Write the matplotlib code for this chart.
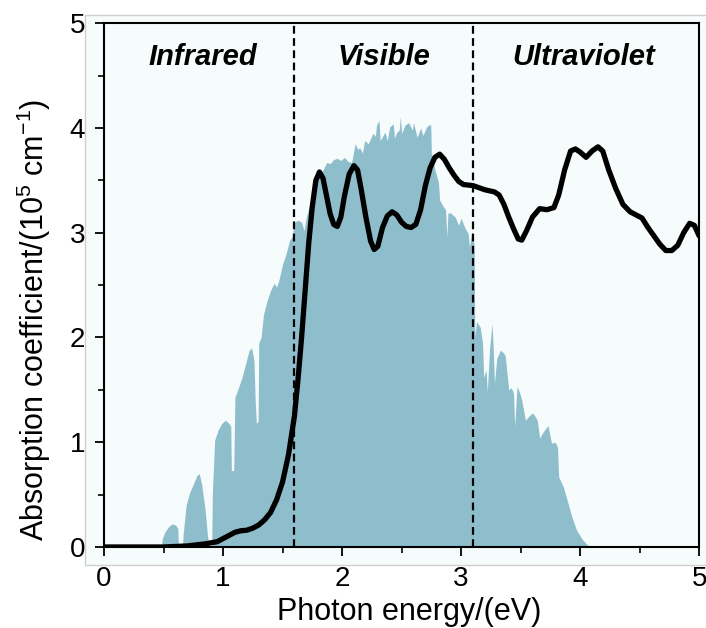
import numpy as np
import matplotlib
matplotlib.use('Agg')
import matplotlib.pyplot as plt
from matplotlib.patches import Rectangle

plt.rcParams['font.family'] = ['Liberation Sans', 'DejaVu Sans']
plt.rcParams['mathtext.fontset'] = 'custom'
plt.rcParams['mathtext.rm'] = 'Liberation Sans'
plt.rcParams['mathtext.it'] = 'Liberation Sans:italic'

# solar spectrum (scaled), photon energy in eV
sun_e = [0.30, 0.32, 0.37, 0.39, 0.48, 0.49, 0.51, 0.54, 0.57, 0.60, 0.62, 0.625, 0.66,
         0.665, 0.69, 0.72, 0.75, 0.78, 0.80, 0.82, 0.85, 0.87, 0.885, 0.905,
         0.91, 0.93, 0.96, 0.99, 1.02, 1.05, 1.065, 1.07, 1.09, 1.10, 1.13, 1.16,
         1.19, 1.22, 1.24, 1.26, 1.27, 1.28, 1.295, 1.30, 1.32, 1.34, 1.37, 1.40,
         1.43, 1.45, 1.47, 1.50, 1.53, 1.56, 1.58, 1.60, 1.63, 1.66, 1.68, 1.70,
         1.73, 1.76, 1.80, 1.84, 1.87, 1.90, 1.93, 1.96, 1.99, 2.02, 2.05, 2.08,
         2.11, 2.13, 2.15, 2.17, 2.19, 2.22, 2.24, 2.26, 2.28, 2.29, 2.31, 2.32,
         2.33, 2.36, 2.38, 2.40, 2.43, 2.44, 2.46, 2.48, 2.49, 2.50, 2.53, 2.56,
         2.59, 2.60, 2.62, 2.63, 2.66, 2.68, 2.71, 2.73, 2.745, 2.75, 2.78, 2.81,
         2.82, 2.85, 2.87, 2.88, 2.89, 2.91, 2.95, 2.98, 3.00, 3.03, 3.06, 3.07,
         3.09, 3.105, 3.11, 3.115, 3.13, 3.16, 3.18, 3.19, 3.21, 3.22, 3.24, 3.26,
         3.27, 3.28, 3.30, 3.33, 3.35, 3.37, 3.40, 3.42, 3.44, 3.45, 3.47, 3.49,
         3.51, 3.54, 3.57, 3.60, 3.62, 3.64, 3.66, 3.69, 3.73, 3.76, 3.79, 3.81,
         3.82, 3.86, 3.89, 3.93, 3.97, 4.02, 4.06, 4.10]
sun_v = [0.0, 0.01, 0.01, 0.0, 0.0, 0.08, 0.14, 0.19, 0.22, 0.21, 0.18, 0.0, 0.0,
         0.12, 0.40, 0.52, 0.60, 0.68, 0.70, 0.60, 0.35, 0.10, 0.0, 0.0,
         0.50, 1.02, 1.12, 1.18, 1.21, 1.18, 1.15, 0.73, 0.73, 1.43, 1.52, 1.62,
         1.75, 1.88, 1.90, 1.78, 1.40, 1.18, 1.20, 1.95, 2.00, 2.22, 2.35, 2.45,
         2.52, 2.48, 2.55, 2.70, 2.80, 2.93, 2.96, 3.10, 3.12, 3.10, 3.02, 3.15,
         3.28, 3.38, 3.52, 3.60, 3.67, 3.66, 3.70, 3.71, 3.69, 3.72, 3.68, 3.67,
         3.85, 3.80, 3.81, 3.76, 3.88, 3.85, 3.90, 3.95, 3.92, 4.03, 4.07, 3.88,
         3.90, 3.96, 3.88, 4.01, 4.04, 3.90, 3.96, 3.98, 4.11, 3.95, 4.03, 4.05,
         3.98, 4.05, 3.96, 3.91, 4.00, 3.93, 4.01, 4.03, 4.03, 3.76, 3.60, 3.48,
         3.31, 3.25, 3.22, 2.96, 3.19, 3.19, 3.15, 3.07, 3.14, 3.05, 2.99, 2.86,
         3.01, 2.90, 2.90, 2.00, 2.15, 2.10, 1.95, 1.62, 1.69, 1.48, 1.90, 2.13,
         1.90, 1.56, 1.80, 1.88, 1.86, 1.83, 1.50, 1.52, 1.47, 1.15, 1.53, 1.48,
         1.40, 1.21, 1.25, 1.28, 1.25, 1.21, 1.04, 1.10, 1.16, 0.99, 1.00, 0.95,
         0.67, 0.57, 0.45, 0.29, 0.16, 0.07, 0.02, 0.0]

# absorption coefficient (1e5 cm^-1)
abs_e = [0.0, 0.5, 0.7, 0.85, 0.95, 1.0, 1.05, 1.1, 1.15, 1.2, 1.25, 1.3, 1.35,
         1.4, 1.45, 1.5, 1.55, 1.6, 1.63, 1.66, 1.69, 1.72, 1.75, 1.78, 1.81,
         1.84, 1.87, 1.9, 1.93, 1.96, 1.99, 2.02, 2.06, 2.1, 2.13, 2.16, 2.2,
         2.24, 2.27, 2.3, 2.34, 2.38, 2.42, 2.46, 2.5, 2.54, 2.58, 2.62, 2.66,
         2.7, 2.74, 2.78, 2.82, 2.86, 2.9, 2.94, 2.98, 3.02, 3.1, 3.2, 3.28,
         3.32, 3.36, 3.4, 3.44, 3.48, 3.51, 3.55, 3.6, 3.66, 3.72, 3.78, 3.82,
         3.87, 3.92, 3.96, 4.0, 4.05, 4.1, 4.15, 4.19, 4.24, 4.3, 4.36, 4.42,
         4.47, 4.52, 4.57, 4.62, 4.67, 4.72, 4.77, 4.82, 4.87, 4.92, 4.96, 5.0]
abs_v = [0.0, 0.0, 0.01, 0.03, 0.05, 0.08, 0.11, 0.14, 0.155, 0.16, 0.18, 0.21, 0.26,
         0.33, 0.45, 0.62, 0.88, 1.25, 1.6, 2.0, 2.45, 2.9, 3.25, 3.5, 3.58,
         3.52, 3.35, 3.18, 3.08, 3.06, 3.15, 3.35, 3.56, 3.64, 3.6, 3.42, 3.15,
         2.92, 2.84, 2.87, 3.05, 3.16, 3.2, 3.17, 3.1, 3.06, 3.05, 3.08, 3.22,
         3.45, 3.62, 3.72, 3.75, 3.7, 3.62, 3.55, 3.49, 3.46, 3.45, 3.41, 3.39,
         3.36, 3.27, 3.15, 3.04, 2.94, 2.93, 3.02, 3.15, 3.23, 3.22, 3.24, 3.36,
         3.6, 3.78, 3.8, 3.77, 3.72, 3.78, 3.82, 3.78, 3.6, 3.42, 3.27, 3.2,
         3.17, 3.14, 3.05, 2.97, 2.89, 2.83, 2.83, 2.88, 3.0, 3.09, 3.07, 2.97]

bounds = [1.6, 3.1]
regions = ['Infrared', 'Visible', 'Ultraviolet']
region_x = [0.83, 2.35, 4.03]

bg = '#f6fbfc'
fig = plt.figure(figsize=(7.06, 6.28), dpi=100)
fig.patches.append(Rectangle((0.120, 0.100), 0.9, 0.876, transform=fig.transFigure,
                             facecolor=bg, edgecolor='#cfcfcf', lw=1.0, zorder=-5))
ax = fig.add_axes([0.1473, 0.129, 0.843, 0.834])
ax.set_facecolor(bg)

ax.fill_between(sun_e, sun_v, 0, color='#8ebdcb', lw=0, zorder=1)
for b in bounds:
    ax.axvline(b, color='black', ls=(0, (3.5, 2)), lw=1.6, zorder=2)
ax.plot(abs_e, abs_v, color='black', lw=3.8, solid_joinstyle='round',
        solid_capstyle='round', zorder=3)

for name, xx in zip(regions, region_x):
    ax.text(xx, 4.60, name, ha='center', va='baseline', fontsize=21,
            fontweight='bold', fontstyle='italic')

ax.set_xlim(0, 5)
ax.set_ylim(0, 5)
ax.set_xticks(np.arange(0, 6, 1))
ax.set_yticks(np.arange(0, 6, 1))
ax.set_xticks(np.arange(0.5, 5, 1), minor=True)
ax.set_yticks(np.arange(0.5, 5, 1), minor=True)
ax.tick_params(which='major', direction='out', length=6.5, width=1.3, labelsize=20)
ax.tick_params(which='minor', direction='out', length=4, width=1.2)
ax.tick_params(axis='x', which='major', pad=7)
ax.tick_params(axis='y', which='major', pad=7)
for s in ax.spines.values():
    s.set_linewidth(1.5)

ax.set_xlabel('Photon energy/(eV)', fontsize=22)
ax.set_ylabel('Absorption coefficient/(10$^{5}$ cm$^{-1}$)', fontsize=22)
ax.xaxis.set_label_coords(0.513, -0.096)
ax.yaxis.set_label_coords(-0.085, 0.433)

fig.savefig('out.png', dpi=100)
